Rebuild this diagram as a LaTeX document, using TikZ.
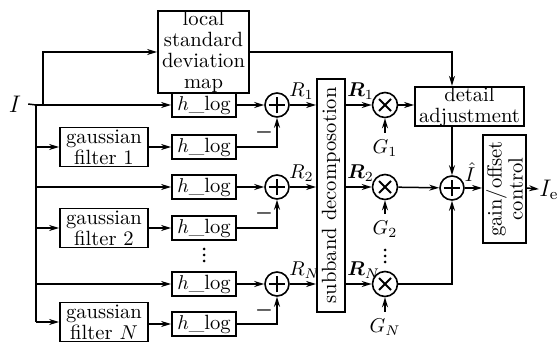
\documentclass[tikz,border=0pt]{standalone}
\usepackage{amsmath,bm}
\usetikzlibrary{arrows.meta}
\begin{document}
\begin{tikzpicture}[x=0.5pt,y=-0.5pt,
  every node/.style={font=\fontsize{10.3}{10.5}\selectfont},
  box/.style={draw,line width=0.9pt,inner sep=0pt,align=center},
  hlog/.style={box,minimum width=32pt,minimum height=12pt},
  gf/.style={box,minimum width=44pt,minimum height=19.5pt},
  ln/.style={line width=0.75pt},
  arr/.style={ln,-{Stealth[length=5pt,width=3pt]}},
  lbl/.style={inner sep=0pt,anchor=south west},
  plusc/.style={circle,draw,line width=0.8pt,minimum size=12pt,inner sep=0pt,
    path picture={\draw[line width=0.9pt]
      ([xshift=-4.2pt]path picture bounding box.center) -- ([xshift=4.2pt]path picture bounding box.center)
      ([yshift=-4.2pt]path picture bounding box.center) -- ([yshift=4.2pt]path picture bounding box.center);}},
  timesc/.style={circle,draw,line width=0.8pt,minimum size=12.5pt,inner sep=0pt,
    path picture={\draw[line width=1pt]
      ([shift={(-3pt,-3pt)}]path picture bounding box.center) -- ([shift={(3pt,3pt)}]path picture bounding box.center)
      ([shift={(-3pt,3pt)}]path picture bounding box.center) -- ([shift={(3pt,-3pt)}]path picture bounding box.center);}},
]
\useasboundingbox (0,0) rectangle (558,342);

% input
\node[font=\fontsize{11.5}{12}\selectfont] (I) at (15,104) {$I$};
\coordinate (j0) at (36,105);
\coordinate (j1) at (43,105);

% local std map
\node[box,minimum width=45.5pt,minimum height=40.5pt] (lsd) at (203.5,52)
  {local\\standard\\deviation\\map};

% gaussian filters
\node[gf] (g1) at (104,147) {gaussian\\filter 1};
\node[gf] (g2) at (104,228) {gaussian\\filter 2};
\node[gf] (gN) at (104,322) {gaussian\\filter $N$};

% h_log boxes
\node[hlog] (h1) at (204,105) {$h$\_log};
\node[hlog] (hf1) at (204,147) {$h$\_log};
\node[hlog] (h2) at (204,187) {$h$\_log};
\node[hlog] (hf2) at (204,228) {$h$\_log};
\node[hlog] (hN) at (204,284) {$h$\_log};
\node[hlog] (hfN) at (204,324) {$h$\_log};
\foreach \yy in {249,255,261} \fill (204,\yy) circle (0.75pt);

% plus circles
\node[plusc] (p1) at (277,105) {};
\node[plusc] (p2) at (277,187) {};
\node[plusc] (pN) at (277,284) {};
\node (m1) at (264,133) {$\boldsymbol{-}$};
\node (m2) at (264,214) {$\boldsymbol{-}$};
\node (mN) at (264,310) {$\boldsymbol{-}$};

% R labels
\node[lbl] (R1) at (289,100) {$R_1$};
\node[lbl] (R2) at (289,182) {$R_2$};
\node[lbl] (RN) at (289,279) {$R_N$};

% subband decomposition
\node[box,rotate=90,minimum width=116.5pt,minimum height=14pt] (sb) at (331,195.5)
  {subband decomposotion};

\node[lbl] (B1) at (347,100) {$\boldsymbol{R}_1$};
\node[lbl] (B2) at (347,182) {$\boldsymbol{R}_2$};
\node[lbl] (BN) at (347,279) {$\boldsymbol{R}_N$};

% times circles
\node[timesc] (t1) at (385,105) {};
\node[timesc] (t2) at (385,187) {};
\node[timesc] (tN) at (385,284) {};
\node (G1) at (385,148) {$G_1$};
\node (G2) at (385,229) {$G_2$};
\node (GN) at (385,327) {$G_N$};
\foreach \yy in {250,256,262} \fill (385,\yy) circle (0.75pt);

% detail adjustment
\node[box,minimum width=54.5pt,minimum height=19.5pt] (da) at (469.5,106.5)
  {detail\\adjustment};

% final sum
\node[plusc] (S) at (452,188) {};
\node[inner sep=0pt] (Ih) at (470,172) {$\hat{I}$};

% gain/offset
\node[box,rotate=90,minimum width=54pt,minimum height=21.5pt] (go) at (504.5,189)
  {gain/offset\\control};
\node[anchor=west,inner sep=0pt,font=\fontsize{11.5}{12}\selectfont] (Ie) at (539,190) {$I_{\mathrm{e}}$};

% connectors
\draw[ln] (I.east) -- (j0);
\draw[arr] (j0) -- (h1);
\draw[arr] (j1) |- (lsd.west);
\draw[ln] (j0) -- (j0 |- gN);
\draw[arr] (j0 |- g1) -- (g1);
\draw[arr] (j0 |- g2) -- (g2);
\draw[arr] (j0 |- gN) -- (gN);
\draw[arr] (j0 |- h2) -- (h2);
\draw[arr] (j0 |- hN) -- (hN);

\draw[arr] (g1.east |- hf1) -- (hf1);
\draw[arr] (g2.east |- hf2) -- (hf2);
\draw[arr] (gN.east |- hfN) -- (hfN);

\draw[arr] (h1) -- (p1);
\draw[arr] (h2) -- (p2);
\draw[arr] (hN) -- (pN);
\draw[arr] (hf1.east) -| (p1.south);
\draw[arr] (hf2.east) -| (p2.south);
\draw[arr] (hfN.east) -| (pN.south);

\draw[arr] (p1) -- (p1 -| sb.north);
\draw[arr] (p2) -- (p2 -| sb.north);
\draw[arr] (pN) -- (pN -| sb.north);
\draw[arr] (t1 -| sb.south) -- (t1);
\draw[arr] (t2 -| sb.south) -- (t2);
\draw[arr] (tN -| sb.south) -- (tN);

\draw[arr] (G1) -- (t1);
\draw[arr] (G2) -- (t2);
\draw[arr] (GN) -- (tN);

\draw[arr] (t1) -- (t1 -| da.west);
\draw[arr] (lsd.east) -| (S |- da.north);
\draw[arr] (S |- da.south) -- (S);
\draw[arr] (t2) -- (S);
\draw[arr] (tN) -| (S);
\draw[arr] (S) -- (S -| go.north);
\draw[arr] (S -| go.south) -- (Ie);
\end{tikzpicture}
\end{document}
